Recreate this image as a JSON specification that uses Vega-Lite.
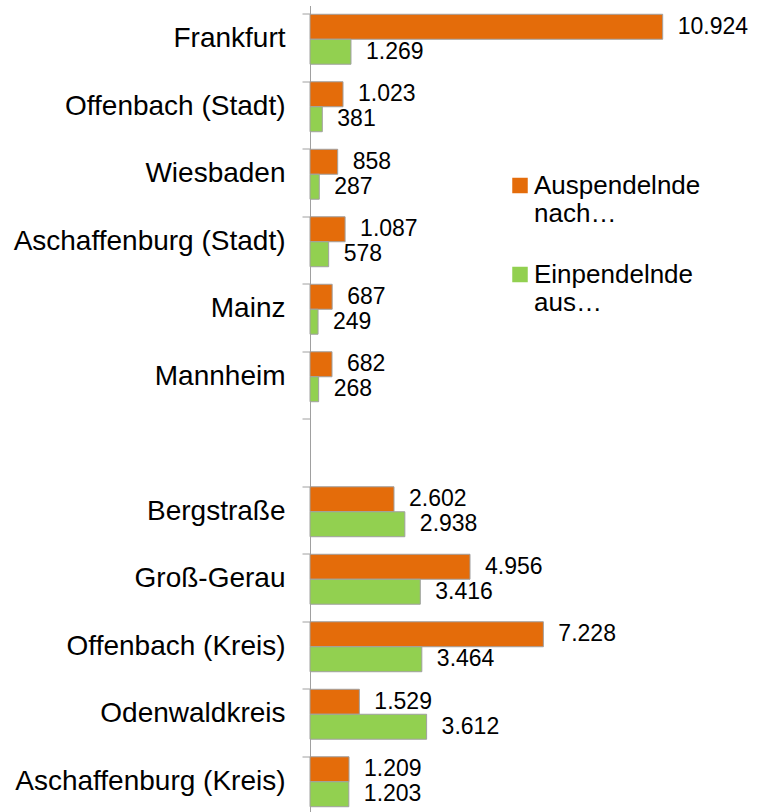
{
  "$schema": "https://vega.github.io/schema/vega-lite/v6.json",
  "autosize": {"type": "none"},
  "padding": {"left": 310, "top": 5.5, "right": 15, "bottom": 0},
  "width": 440,
  "height": 810,
  "config": {
    "locale": {"number": {"decimal": ",", "thousands": ".", "grouping": [3], "currency": ["", " €"]}},
    "font": "Liberation Sans",
    "view": {"stroke": null},
    "background": "white"
  },
  "data": {
    "values": [
      {"region": "Frankfurt", "series": "Auspendelnde nach…", "value": 10924},
      {"region": "Frankfurt", "series": "Einpendelnde aus…", "value": 1269},
      {"region": "Offenbach (Stadt)", "series": "Auspendelnde nach…", "value": 1023},
      {"region": "Offenbach (Stadt)", "series": "Einpendelnde aus…", "value": 381},
      {"region": "Wiesbaden", "series": "Auspendelnde nach…", "value": 858},
      {"region": "Wiesbaden", "series": "Einpendelnde aus…", "value": 287},
      {"region": "Aschaffenburg (Stadt)", "series": "Auspendelnde nach…", "value": 1087},
      {"region": "Aschaffenburg (Stadt)", "series": "Einpendelnde aus…", "value": 578},
      {"region": "Mainz", "series": "Auspendelnde nach…", "value": 687},
      {"region": "Mainz", "series": "Einpendelnde aus…", "value": 249},
      {"region": "Mannheim", "series": "Auspendelnde nach…", "value": 682},
      {"region": "Mannheim", "series": "Einpendelnde aus…", "value": 268},
      {"region": "Bergstraße", "series": "Auspendelnde nach…", "value": 2602},
      {"region": "Bergstraße", "series": "Einpendelnde aus…", "value": 2938},
      {"region": "Groß-Gerau", "series": "Auspendelnde nach…", "value": 4956},
      {"region": "Groß-Gerau", "series": "Einpendelnde aus…", "value": 3416},
      {"region": "Offenbach (Kreis)", "series": "Auspendelnde nach…", "value": 7228},
      {"region": "Offenbach (Kreis)", "series": "Einpendelnde aus…", "value": 3464},
      {"region": "Odenwaldkreis", "series": "Auspendelnde nach…", "value": 1529},
      {"region": "Odenwaldkreis", "series": "Einpendelnde aus…", "value": 3612},
      {"region": "Aschaffenburg (Kreis)", "series": "Auspendelnde nach…", "value": 1209},
      {"region": "Aschaffenburg (Kreis)", "series": "Einpendelnde aus…", "value": 1203}
    ]
  },
  "encoding": {
    "y": {
      "field": "region",
      "type": "nominal",
      "scale": {
        "domain": ["Frankfurt", "Offenbach (Stadt)", "Wiesbaden", "Aschaffenburg (Stadt)", "Mainz", "Mannheim", " ", "Bergstraße", "Groß-Gerau", "Offenbach (Kreis)", "Odenwaldkreis", "Aschaffenburg (Kreis)"],
        "paddingInner": 0.26,
        "paddingOuter": 0.13
      },
      "axis": {
        "title": null,
        "bandPosition": 0,
        "tickSize": 8,
        "tickColor": "#a0a0a0",
        "domainColor": "#a0a0a0",
        "labelFontSize": 28,
        "labelColor": "#000000",
        "labelPadding": 17,
        "labelLimit": 320,
        "labelBaseline": "middle"
      }
    },
    "yOffset": {
      "field": "series",
      "type": "nominal",
      "scale": {"domain": ["Auspendelnde nach…", "Einpendelnde aus…"], "paddingInner": 0, "paddingOuter": 0}
    },
    "x": {
      "field": "value",
      "type": "quantitative",
      "scale": {"domain": [0, 13628], "nice": false, "zero": true},
      "axis": null
    }
  },
  "layer": [
    {
      "mark": {"type": "bar", "stroke": "#a0a0a0", "strokeWidth": 1},
      "encoding": {
        "color": {
          "field": "series",
          "type": "nominal",
          "scale": {"domain": ["Auspendelnde nach…", "Einpendelnde aus…"], "range": ["#E46C0A", "#92D050"]},
          "legend": {
            "title": null,
            "orient": "none",
            "legendX": 197,
            "legendY": 167,
            "padding": 0,
            "symbolType": "square",
            "symbolSize": 240,
            "symbolStrokeWidth": 0,
            "labelFontSize": 26,
            "labelColor": "#000000",
            "labelLimit": 320,
            "labelOffset": 1,
            "labelBaseline": "middle",
            "rowPadding": 35,
            "labelExpr": "datum.label == 'Auspendelnde nach…' ? ['Auspendelnde', 'nach…'] : ['Einpendelnde', 'aus…']"
          }
        }
      }
    },
    {
      "mark": {"type": "text", "align": "left", "baseline": "middle", "dx": 15, "fontSize": 23, "color": "#000000"},
      "encoding": {
        "text": {"field": "value", "type": "quantitative", "format": ",d"}
      }
    }
  ]
}
